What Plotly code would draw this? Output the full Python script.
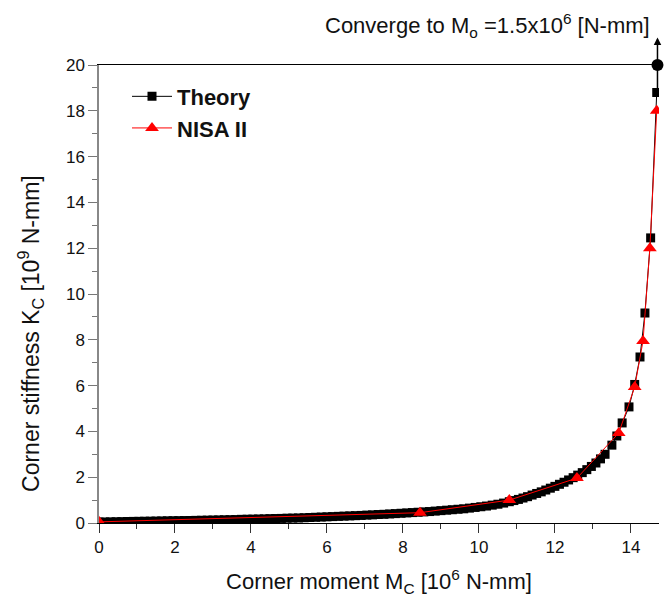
import plotly.graph_objects as go

# Theory (black squares)
theory_x = [0.00, 0.15, 0.30, 0.45, 0.60, 0.75, 0.90, 1.05, 1.20, 1.35, 1.50, 1.65, 1.80, 1.95,
            2.10, 2.25, 2.40, 2.55, 2.70, 2.85, 3.00, 3.15, 3.30, 3.45, 3.60, 3.75, 3.90, 4.05,
            4.20, 4.35, 4.50, 4.65, 4.80, 4.95, 5.10, 5.25, 5.40, 5.55, 5.70, 5.85, 6.00, 6.15,
            6.30, 6.45, 6.60, 6.75, 6.90, 7.05, 7.20, 7.35, 7.50, 7.65, 7.80, 7.95, 8.10, 8.25,
            8.40, 8.55, 8.70, 8.85, 9.00, 9.15, 9.30, 9.45, 9.60, 9.75, 9.90, 10.05, 10.20, 10.35,
            10.50, 10.65, 10.80, 10.92, 11.04, 11.16, 11.28, 11.40, 11.52, 11.64, 11.76, 11.88,
            12.00, 12.12, 12.24, 12.36, 12.48, 12.60, 12.72, 12.84, 12.96, 13.08, 13.20, 13.32,
            13.50, 13.63, 13.77, 13.95, 14.10, 14.24, 14.37, 14.52, 14.68]
theory_y = [0.040, 0.045, 0.050, 0.055, 0.060, 0.065, 0.070, 0.073, 0.077, 0.080, 0.085, 0.090, 0.095, 0.100,
            0.103, 0.107, 0.110, 0.115, 0.120, 0.125, 0.130, 0.135, 0.140, 0.145, 0.150, 0.160, 0.165, 0.170,
            0.175, 0.180, 0.190, 0.195, 0.200, 0.210, 0.215, 0.220, 0.230, 0.240, 0.250, 0.260, 0.270, 0.280,
            0.290, 0.300, 0.310, 0.320, 0.330, 0.345, 0.355, 0.370, 0.380, 0.395, 0.410, 0.425, 0.440, 0.455,
            0.470, 0.485, 0.500, 0.520, 0.540, 0.560, 0.580, 0.600, 0.620, 0.650, 0.680, 0.710, 0.740, 0.780,
            0.820, 0.870, 0.930, 0.980, 1.030, 1.090, 1.150, 1.220, 1.290, 1.360, 1.440, 1.520,
            1.600, 1.690, 1.780, 1.880, 1.980, 2.090, 2.200, 2.330, 2.470, 2.620, 2.800, 3.000,
            3.400, 3.800, 4.370, 5.070, 6.050, 7.250, 9.170, 12.450, 18.800]

# NISA II (red triangles)
nisa_x = [0.0, 8.45, 10.8, 12.58, 13.68, 14.1, 14.32, 14.5, 14.68]
nisa_y = [0.05, 0.45, 1.0, 1.96, 3.93, 5.94, 7.95, 12.0, 18.0]

# Convergence point
conv_x = [14.7]
conv_y = [20.0]

x_tickvals = [0, 2, 4, 6, 8, 10, 12, 14]
y_tickvals = [0, 2, 4, 6, 8, 10, 12, 14, 16, 18, 20]

FONT = "Liberation Sans, Arial, sans-serif"

fig = go.Figure()
fig.add_trace(go.Scatter(
    x=theory_x, y=theory_y, mode="lines+markers", name="<b>Theory</b>",
    line=dict(color="black", width=1),
    marker=dict(symbol="square", size=9, color="black"),
))
fig.add_trace(go.Scatter(
    x=nisa_x, y=nisa_y, mode="lines+markers", name="<b>NISA II</b>",
    line=dict(color="#ff0000", width=1),
    marker=dict(symbol="triangle-up", size=12, color="#ff0000"),
))
fig.add_trace(go.Scatter(
    x=conv_x, y=conv_y, mode="markers", showlegend=False, cliponaxis=False,
    marker=dict(symbol="circle", size=12, color="black"),
))

fig.add_annotation(
    x=conv_x[0], y=21.2, ax=conv_x[0], ay=18.8, xref="x", yref="y", axref="x", ayref="y",
    showarrow=True, arrowhead=2, arrowsize=1, arrowwidth=1.5, arrowcolor="black", text="",
)
fig.add_annotation(
    x=0.987, y=1.087, xref="paper", yref="paper", xanchor="right", yanchor="middle",
    text="Converge to M<sub>o</sub> =1.5x10<sup>6</sup> [N-mm]", showarrow=False,
    font=dict(family=FONT, size=22, color="#111"),
)
# y-axis title (placed as in reference, slightly below axis centre)
fig.add_annotation(
    x=-0.123, y=0.413, xref="paper", yref="paper", xanchor="center", yanchor="middle",
    textangle=-90, showarrow=False,
    text="Corner stiffness K<sub>C</sub> [10<sup>9</sup> N-mm]",
    font=dict(family=FONT, size=23, color="#111"),
)

fig.update_layout(
    width=664, height=601,
    margin=dict(l=99, r=5, t=65, b=78),
    plot_bgcolor="white", paper_bgcolor="white",
    font=dict(family=FONT, color="#111"),
    showlegend=True,
    legend=dict(x=0.05, y=0.977, xanchor="left", yanchor="top",
                bgcolor="rgba(0,0,0,0)", font=dict(family=FONT, size=22, color="#111"),
                tracegroupgap=0, itemwidth=40),
    xaxis=dict(
        range=[0, 14.74], tickvals=x_tickvals, ticks="outside", ticklen=9, tickwidth=1,
        tickcolor="#333", showline=True, linecolor="black", linewidth=1, mirror=True,
        showgrid=False, zeroline=False, tickfont=dict(family=FONT, size=17, color="#111"),
        minor=dict(dtick=1, ticks="outside", ticklen=5, tickcolor="#333"),
        title=dict(text="Corner moment M<sub>C</sub> [10<sup>6</sup> N-mm]",
                   font=dict(family=FONT, size=22, color="#111"), standoff=17),
    ),
    yaxis=dict(
        range=[0, 20], tickvals=y_tickvals, ticks="outside", ticklen=9, tickwidth=1,
        tickcolor="#777", showline=True, linecolor="#888", linewidth=1.5,
        showgrid=False, zeroline=False, tickfont=dict(family=FONT, size=17, color="#111"),
        minor=dict(dtick=1, ticks="outside", ticklen=5, tickcolor="#777"),
    ),
)

fig.write_html("out.html")
